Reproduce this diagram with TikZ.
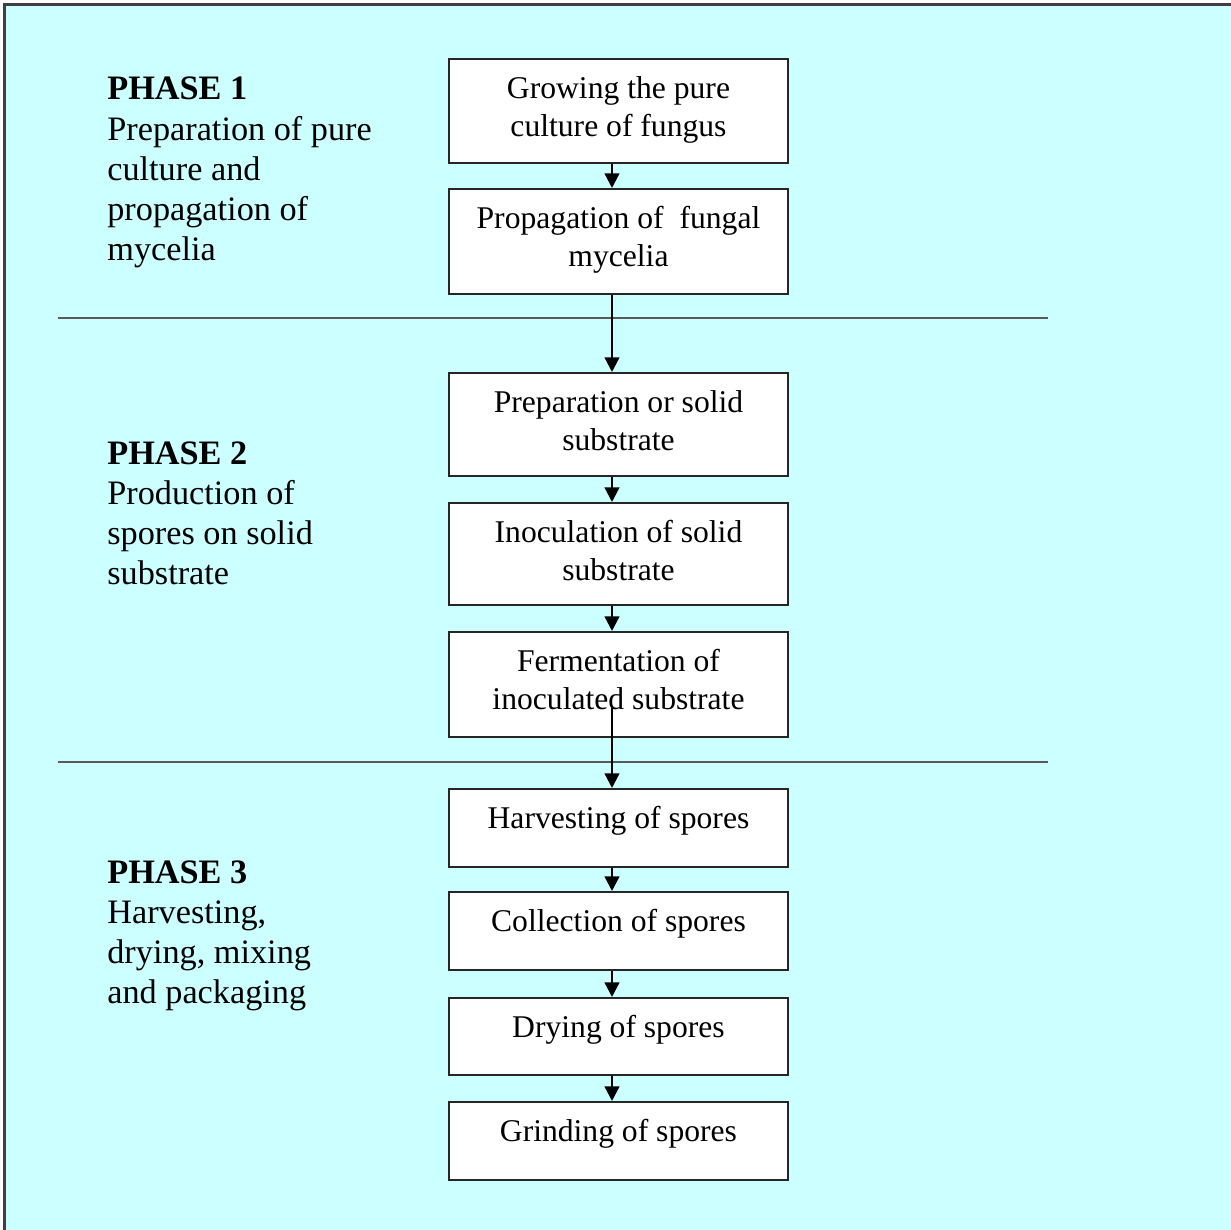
\documentclass[tikz,border=0pt]{standalone}
\usepackage{fontspec}
\setmainfont{Liberation Serif}
\usetikzlibrary{arrows.meta}
\definecolor{bgcyan}{HTML}{CCFFFF}
\newcommand\boxtxt[2]{\parbox[c][#1][t]{192.9pt}{\centering\rule{0pt}{22.5pt}#2}}
\newcommand\phasetxt[1]{\parbox[t]{180pt}{\raggedright #1}}
\tikzset{
  stepbox/.style={draw=black!85, line width=1pt, fill=white, inner sep=0pt, anchor=north,
    font=\fontsize{18}{21.6}\selectfont},
  phaselabel/.style={inner sep=0pt, anchor=base west, font=\fontsize{19.5}{22.8}\selectfont},
  arr/.style={line width=1.3pt, -{Triangle[length=8.3pt,width=8.3pt]}},
  sepline/.style={draw=black!65, line width=0.9pt},
}
\begin{document}
\begin{tikzpicture}[x=0.02cm,y=-0.02cm]
\useasboundingbox (0,0) rectangle (1231,1230);
\fill[white] (0,0) rectangle (1231,1230);
\fill[bgcyan] (4.5,4.5) rectangle (1231,1230);
\draw[black!75, line width=1.2pt] (4.5,1230) -- (4.5,4.5) -- (1231,4.5);

% separators
\coordinate (s1a) at (58,318);
\coordinate (s1b) at (1048,318);
\coordinate (s2a) at (58,762);
\coordinate (s2b) at (1048,762);
\draw[sepline] (s1a) -- (s1b);
\draw[sepline] (s2a) -- (s2b);

% phase labels
\node[phaselabel] (p1) at (107,100) {\phasetxt{\textbf{PHASE 1}\\Preparation of pure\\culture and\\propagation of\\mycelia}};
\node[phaselabel] (p2) at (107,464) {\phasetxt{\textbf{PHASE 2}\\Production of\\spores on solid\\substrate}};
\node[phaselabel] (p3) at (107,883) {\phasetxt{\textbf{PHASE 3}\\Harvesting,\\drying, mixing\\and packaging}};

% boxes
\node[stepbox] (b1) at (618.5,58) {\boxtxt{59.2pt}{Growing the pure\\culture of fungus}};
\node[stepbox] (b2) at (618.5,188) {\boxtxt{59.8pt}{Propagation of\ \ fungal\\mycelia}};
\node[stepbox] (b3) at (618.5,372) {\boxtxt{58.6pt}{Preparation or solid\\substrate}};
\node[stepbox] (b4) at (618.5,502) {\boxtxt{58.0pt}{Inoculation of solid\\substrate}};
\node[stepbox] (b5) at (618.5,631) {\boxtxt{59.8pt}{Fermentation of\\inoculated substrate}};
\node[stepbox] (b6) at (618.5,788) {\boxtxt{44.4pt}{Harvesting of spores}};
\node[stepbox] (b7) at (618.5,891) {\boxtxt{44.4pt}{Collection of spores}};
\node[stepbox] (b8) at (618.5,997) {\boxtxt{43.8pt}{Drying of spores}};
\node[stepbox] (b9) at (618.5,1101) {\boxtxt{44.4pt}{Grinding of spores}};

% arrows
\coordinate (ax) at (612,0);
\coordinate (fs) at (612,708);
\draw[arr] (b1.south -| ax) -- (b2.north -| ax);
\draw[arr] (b2.south -| ax) -- (b3.north -| ax);
\draw[arr] (b3.south -| ax) -- (b4.north -| ax);
\draw[arr] (b4.south -| ax) -- (b5.north -| ax);
\draw[arr] (fs) -- (b6.north -| ax);
\draw[arr] (b6.south -| ax) -- (b7.north -| ax);
\draw[arr] (b7.south -| ax) -- (b8.north -| ax);
\draw[arr] (b8.south -| ax) -- (b9.north -| ax);
\end{tikzpicture}
\end{document}
